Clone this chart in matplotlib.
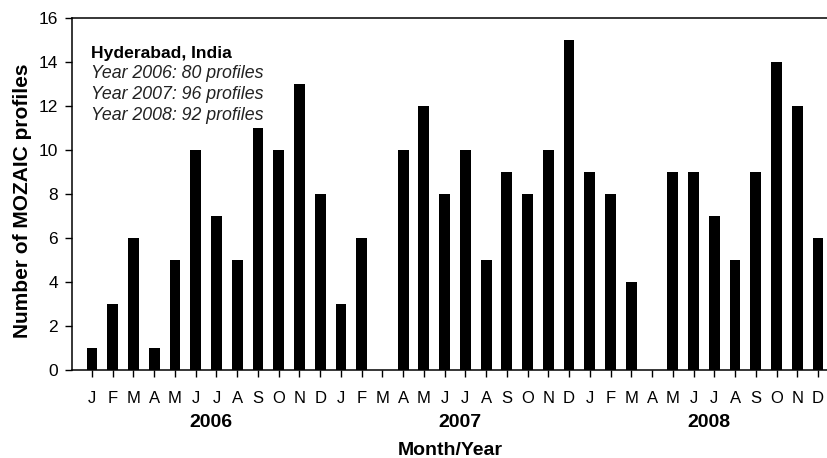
import numpy as np
import matplotlib
matplotlib.use('Agg')
import matplotlib.pyplot as plt

plt.rcParams['font.family'] = ['Liberation Sans', 'DejaVu Sans']

# monthly profile counts, Jan 2006 .. Dec 2008
months = ['J', 'F', 'M', 'A', 'M', 'J', 'J', 'A', 'S', 'O', 'N', 'D'] * 3
years = ['2006', '2007', '2008']
counts_2006 = [1, 3, 6, 1, 5, 10, 7, 5, 11, 10, 13, 8]
counts_2007 = [3, 6, 0, 10, 12, 8, 10, 5, 9, 8, 10, 15]
counts_2008 = [9, 8, 4, 0, 9, 9, 7, 5, 9, 14, 12, 6]
notes = ['Year 2006: 80 profiles', 'Year 2007: 96 profiles', 'Year 2008: 92 profiles']

counts = counts_2006 + counts_2007 + counts_2008
x = np.arange(len(counts))

fig = plt.figure(figsize=(8.28, 4.58), dpi=100)
ax = fig.add_axes([0.087, 0.192, 0.913, 0.769])

ax.bar(x, counts, width=0.52, color='black')

ax.set_xlim(-0.96, 35.48)
ax.set_ylim(0, 16)
ax.set_yticks(range(0, 17, 2))
ax.set_xticks(x)
ax.set_xticklabels(months, fontsize=12)
ax.tick_params(axis='both', direction='out', length=5, width=1, colors='black')
ax.tick_params(axis='y', labelsize=12.5, pad=5)
ax.tick_params(axis='x', pad=10)
ax.spines['right'].set_visible(False)
for s in ['left', 'top', 'bottom']:
    ax.spines[s].set_linewidth(1.1)

for i, yr in enumerate(years):
    ax.text(i * 12 + 5.75, -2.36, yr, ha='center', va='center',
            fontsize=14, fontweight='bold')

ax.text(0.5, -0.227, 'Month/Year', transform=ax.transAxes, ha='center',
        va='center', fontsize=14, fontweight='bold')
ax.set_ylabel('Number of MOZAIC profiles', fontsize=15, fontweight='bold')
ax.yaxis.set_label_coords(-0.053, 0.48)

ax.text(-0.05, 14.4, 'Hyderabad, India', fontsize=12.6, fontweight='bold', va='center')
for k, t in enumerate(notes):
    ax.text(-0.05, 13.45 - 0.95 * k, t, fontsize=12.8, style='italic',
            color='#222222', va='center')

fig.savefig('out.png', dpi=100)
